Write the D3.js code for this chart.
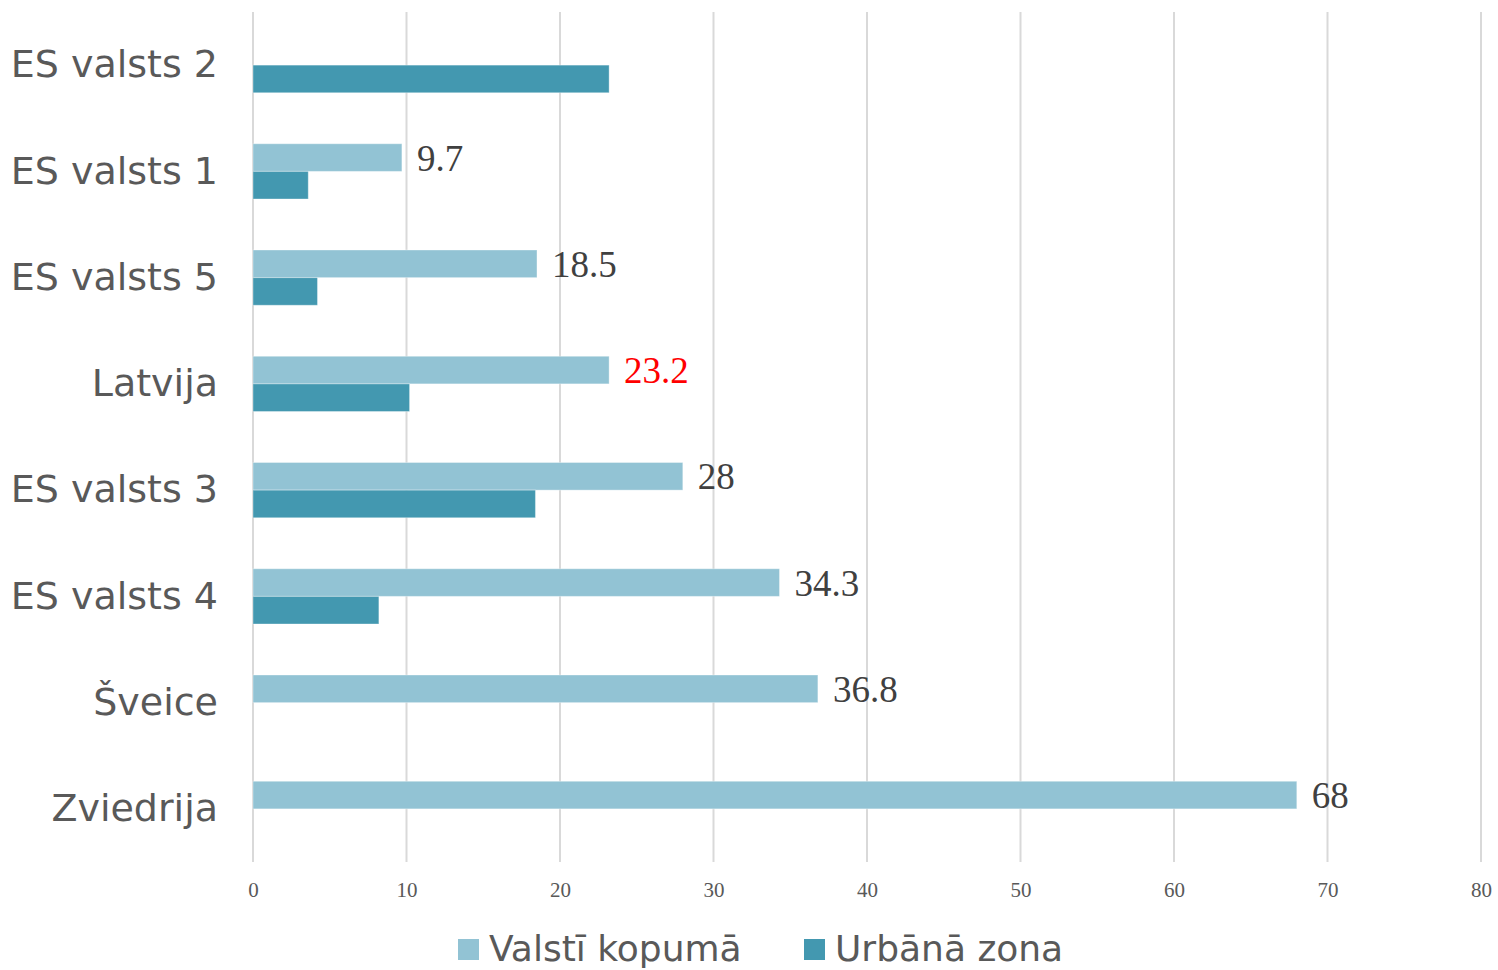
<!DOCTYPE html>
<html>
<head>
<meta charset="utf-8">
<title>Bar chart</title>
<script src="https://d3js.org/d3.v7.min.js"></script>
<style>
  body { margin: 0; background: #fff; }
</style>
</head>
<body>
<div id="chart"></div>
<script>
// data
var categories = ["ES valsts 2", "ES valsts 1", "ES valsts 5", "Latvija", "ES valsts 3", "ES valsts 4", "Šveice", "Zviedrija"];
var seriesNames = ["Valstī kopumā", "Urbānā zona"];
var valstiKopuma = [null, 9.7, 18.5, 23.2, 28, 34.3, 36.8, 68];
var urbanaZona = [23.2, 3.6, 4.2, 10.2, 18.4, 8.2, null, null];
var xTicks = [0, 10, 20, 30, 40, 50, 60, 70, 80];
var highlight = "Latvija";

var colors = ["#92c3d4", "#4398b0"];

var W = 1498, H = 970;
var margin = {top: 12, right: 17, bottom: 108, left: 253};

var svg = d3.select("#chart").append("svg")
    .attr("width", W)
    .attr("height", H);

var x = d3.scaleLinear()
    .domain([0, 80])
    .range([margin.left, W - margin.right]);

var y = d3.scaleBand()
    .domain(categories)
    .range([margin.top, H - margin.bottom])
    .paddingInner(0.48)
    .paddingOuter(0.24);

var sub = d3.scaleBand()
    .domain(seriesNames)
    .range([0, y.bandwidth()]);

// gridlines
svg.append("g")
  .selectAll("line")
  .data(xTicks)
  .enter().append("line")
    .attr("x1", function(d) { return x(d); })
    .attr("x2", function(d) { return x(d); })
    .attr("y1", margin.top)
    .attr("y2", H - margin.bottom)
    .attr("stroke", "#d9d9d9")
    .attr("stroke-width", 2);

// x axis labels
var xAxis = svg.append("g")
    .attr("transform", "translate(0," + (H - margin.bottom + 12) + ")")
    .call(d3.axisBottom(x).tickValues(xTicks).tickSize(0).tickPadding(8));
xAxis.select(".domain").remove();
xAxis.selectAll("text")
    .attr("font-family", "'Liberation Serif', 'Times New Roman', serif")
    .attr("font-size", 21)
    .attr("fill", "#595959");

// category labels
var yAxis = svg.append("g")
    .attr("transform", "translate(" + (margin.left - 35) + ",0)")
    .call(d3.axisLeft(y).tickSize(0).tickPadding(0));
yAxis.select(".domain").remove();
yAxis.selectAll("text")
    .attr("font-family", "'DejaVu Sans', Verdana, sans-serif")
    .attr("font-size", 38)
    .attr("fill", "#595959");

// bars
var rows = categories.map(function(c, i) {
  return {cat: c, vals: [valstiKopuma[i], urbanaZona[i]]};
});

var groups = svg.append("g")
  .selectAll("g")
  .data(rows)
  .enter().append("g")
    .attr("transform", function(d) { return "translate(0," + y(d.cat) + ")"; });

groups.selectAll("rect")
  .data(function(d) {
    return d.vals.map(function(v, j) { return {s: seriesNames[j], v: v, j: j}; })
      .filter(function(e) { return e.v != null; });
  })
  .enter().append("rect")
    .attr("x", x(0))
    .attr("y", function(d) { return sub(d.s); })
    .attr("width", function(d) { return x(d.v) - x(0); })
    .attr("height", sub.bandwidth())
    .attr("fill", function(d) { return colors[d.j]; })
    .attr("stroke", "#ffffff")
    .attr("stroke-opacity", 0.35)
    .attr("stroke-width", 1);

// value labels for first series
groups.filter(function(d) { return d.vals[0] != null; })
  .append("text")
    .attr("x", function(d) { return x(d.vals[0]) + 15; })
    .attr("y", sub(seriesNames[0]) + sub.bandwidth() / 2)
    .attr("dy", "0.35em")
    .attr("font-family", "'Liberation Serif', 'Times New Roman', serif")
    .attr("font-size", 37)
    .attr("fill", function(d) { return d.cat === highlight ? "#ff0000" : "#404040"; })
    .text(function(d) { return d.vals[0]; });

// legend
var legendX = [458, 804];
var legend = svg.append("g")
  .selectAll("g")
  .data(seriesNames)
  .enter().append("g")
    .attr("transform", function(d, i) { return "translate(" + legendX[i] + "," + 939 + ")"; });
legend.append("rect")
    .attr("width", 21)
    .attr("height", 21)
    .attr("fill", function(d, i) { return colors[i]; });
legend.append("text")
    .attr("x", 31)
    .attr("y", 22)
    .attr("font-family", "'DejaVu Sans', Verdana, sans-serif")
    .attr("font-size", 36)
    .attr("fill", "#595959")
    .text(function(d) { return d; });
</script>
</body>
</html>
